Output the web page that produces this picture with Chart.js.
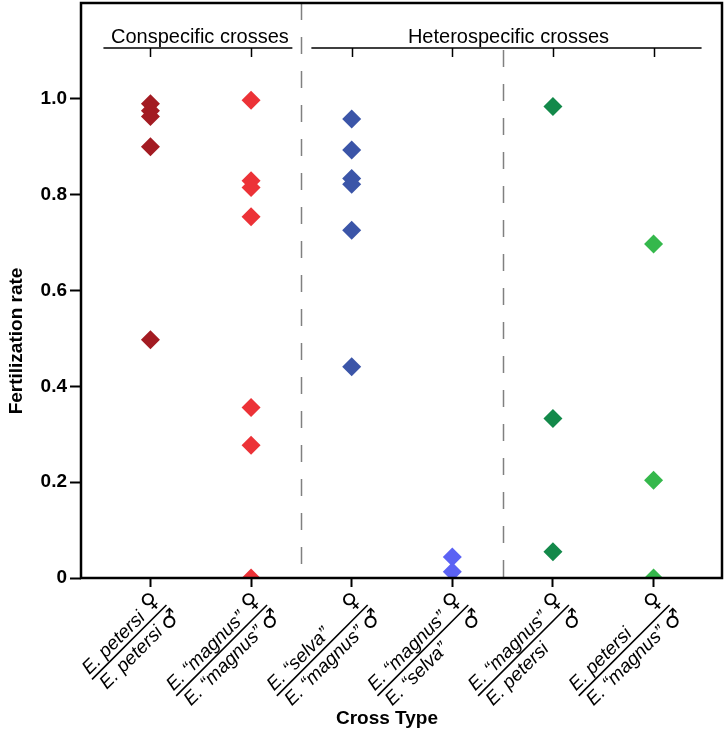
<!DOCTYPE html>
<html>
<head>
<meta charset="utf-8">
<script src="https://cdn.jsdelivr.net/npm/chart.js@4.4.1/dist/chart.umd.min.js"></script>
<style>
  html, body { margin: 0; padding: 0; background: #fff; }
</style>
</head>
<body>
<canvas id="fertChart" width="725" height="742"></canvas>
<script>
// Cross types: female parent over male parent
const crossFemales = ['E. petersi', 'E. \u201cmagnus\u201d', 'E. \u201cselva\u201d', 'E. \u201cmagnus\u201d', 'E. \u201cmagnus\u201d', 'E. petersi'];
const crossMales = ['E. petersi', 'E. \u201cmagnus\u201d', 'E. \u201cmagnus\u201d', 'E. \u201cselva\u201d', 'E. petersi', 'E. \u201cmagnus\u201d'];

// Fertilization rate of each replicate cross
const petersiPetersi = [0.99, 0.975, 0.963, 0.90, 0.497];
const magnusMagnus = [0.997, 0.829, 0.815, 0.754, 0.356, 0.277, 0];
const selvaMagnus = [0.958, 0.893, 0.834, 0.822, 0.726, 0.441];
const magnusSelva = [0.044, 0.013];
const magnusPetersi = [0.984, 0.333, 0.055];
const petersiMagnus = [0.697, 0.204, 0];

const seriesValues = [petersiPetersi, magnusMagnus, selvaMagnus, magnusSelva, magnusPetersi, petersiMagnus];
const seriesColors = ['#a31b22', '#ec3237', '#3b55a8', '#5b62f4', '#13894a', '#35b84c'];

const yTickValues = [0, 0.2, 0.4, 0.6, 0.8, 1.0];
const yTickLabels = ['0', '0.2', '0.4', '0.6', '0.8', '1.0'];

const groupLabels = ['Conspecific crosses', 'Heterospecific crosses'];
const groupRanges = [[0, 1], [2, 5]];
const dividers = [1.5, 3.5];

const HEADER_Y = 48;
const FONT = '"Liberation Sans", Arial, sans-serif';

const annotations = {
    id: 'annotations',
    beforeDatasetsDraw(chart) {
        const { ctx, chartArea: a, scales: { x } } = chart;
        ctx.save();
        ctx.strokeStyle = '#808080';
        ctx.lineWidth = 1.5;
        ctx.setLineDash([17, 17]);
        dividers.forEach((d, i) => {
            const px = Math.round(x.getPixelForValue(d)) + 0.5;
            ctx.beginPath();
            ctx.moveTo(px, i === 0 ? a.top : HEADER_Y + 2);
            ctx.lineTo(px, a.bottom);
            ctx.stroke();
        });
        ctx.restore();
    },
    afterDatasetsDraw(chart) {
        const { ctx, chartArea: a, scales: { x } } = chart;
        ctx.save();

        // group headers
        ctx.strokeStyle = '#000';
        ctx.fillStyle = '#000';
        ctx.lineWidth = 1.5;
        ctx.font = '20px ' + FONT;
        ctx.textAlign = 'center';
        ctx.textBaseline = 'alphabetic';
        const last = crossFemales.length - 1;
        groupRanges.forEach(([from, to], g) => {
            const x0 = from === 0 ? x.getPixelForValue(from) - 47 : x.getPixelForValue(from - 0.5) + 10;
            const x1 = to === last ? x.getPixelForValue(to) + 48 : x.getPixelForValue(to + 0.5) - 9;
            ctx.beginPath();
            ctx.moveTo(x0, HEADER_Y);
            ctx.lineTo(x1, HEADER_Y);
            for (let i = from; i <= to; i++) {
                const px = Math.round(x.getPixelForValue(i)) + 0.5;
                ctx.moveTo(px, HEADER_Y);
                ctx.lineTo(px, HEADER_Y + 9);
            }
            ctx.stroke();
            ctx.fillText(groupLabels[g], (x0 + x1) / 2 + 2, HEADER_Y - 5);
        });

        // frame
        ctx.lineWidth = 2.5;
        ctx.strokeRect(a.left, a.top, a.right - a.left, a.bottom - a.top);

        // axis titles
        ctx.font = 'bold 19px ' + FONT;
        ctx.textBaseline = 'middle';
        ctx.fillText('Cross Type', 387, 719);
        ctx.save();
        ctx.translate(17, 341);
        ctx.rotate(-Math.PI / 2);
        ctx.fillText('Fertilization rate', 0, 0);
        ctx.restore();

        // cross type labels (female over male, rotated)
        crossFemales.forEach((fem, i) => {
            const male = crossMales[i];
            ctx.font = 'italic 19px ' + FONT;
            const w = Math.max(ctx.measureText(fem).width, ctx.measureText(male).width);
            const len = w + 25;
            ctx.save();
            ctx.translate(x.getPixelForValue(i) + 16, a.bottom + 27);
            ctx.rotate(-Math.PI / 4);
            ctx.lineWidth = 1.6;
            ctx.beginPath();
            ctx.moveTo(-len, 0);
            ctx.lineTo(0, 0);
            ctx.stroke();
            ctx.textAlign = 'left';
            ctx.textBaseline = 'alphabetic';
            ctx.fillText(fem, -len + 1, -5);
            ctx.fillText(male, -len + 3, 18);
            ctx.font = '22px "DejaVu Sans", sans-serif';
            ctx.textAlign = 'center';
            ctx.textBaseline = 'middle';
            ctx.fillText('\u2640', -9, -13);
            ctx.fillText('\u2642', -8, 14);
            ctx.restore();
        });

        ctx.restore();
    }
};

const ctx = document.getElementById('fertChart').getContext('2d');
const fertChart = new Chart(ctx, {
    type: 'scatter',
    data: {
        datasets: seriesValues.map((vals, i) => ({
            label: crossFemales[i] + ' x ' + crossMales[i],
            data: vals.map(v => ({ x: i, y: v })),
            pointStyle: 'rectRot',
            pointRadius: 9.5,
            pointHoverRadius: 9.5,
            borderWidth: 0,
            backgroundColor: seriesColors[i],
            borderColor: seriesColors[i],
            clip: 0
        }))
    },
    options: {
        responsive: false,
        animation: false,
        devicePixelRatio: 1,
        layout: { autoPadding: false, padding: { top: 3, right: 3, left: 0, bottom: 0 } },
        plugins: {
            legend: { display: false },
            tooltip: { enabled: false }
        },
        scales: {
            x: {
                type: 'linear',
                min: -0.69,
                max: 5.68,
                afterBuildTicks: s => { s.ticks = crossFemales.map((c, i) => ({ value: i })); },
                afterFit: s => { s.height = 164; s.paddingLeft = 0; s.paddingRight = 0; },
                ticks: { display: false },
                border: { display: false },
                grid: { display: true, drawOnChartArea: false, drawTicks: true, tickLength: 9, tickColor: '#000', tickWidth: 2 }
            },
            y: {
                min: 0,
                max: 1.2,
                afterBuildTicks: s => { s.ticks = yTickValues.map(v => ({ value: v })); },
                afterFit: s => { s.width = 81; s.paddingTop = 0; s.paddingBottom = 0; },
                border: { display: false },
                grid: { display: true, drawOnChartArea: false, drawTicks: true, tickLength: 11, tickColor: '#000', tickWidth: 2 },
                ticks: {
                    color: '#000',
                    padding: 3,
                    font: { family: FONT, size: 19, weight: 'bold' },
                    callback: (v, i) => yTickLabels[i]
                }
            }
        }
    },
    plugins: [annotations]
});
</script>
</body>
</html>
